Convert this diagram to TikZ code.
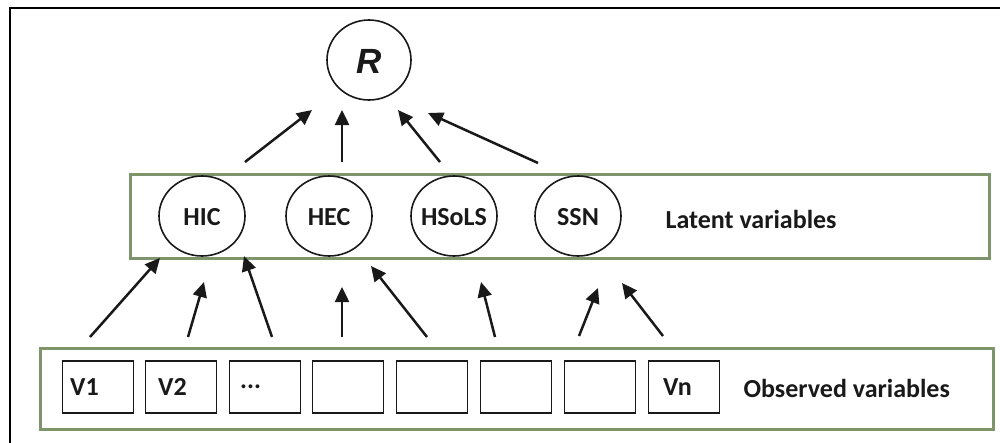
\documentclass[tikz,border=0pt]{standalone}
\usepackage{fontspec}
\setmainfont{Carlito}
\newfontfamily\rfont{Liberation Sans}
\usetikzlibrary{arrows.meta}
\definecolor{framegreen}{RGB}{126,148,106}
\definecolor{ink}{RGB}{25,25,25}
\tikzset{
  groupbox/.style={draw=framegreen, line width=3pt},
  ring/.style={draw=ink, line width=1.6pt},
  obsbox/.style={draw=ink, line width=1.6pt, minimum width=71pt, minimum height=52pt, inner sep=0pt},
  lbl/.style={font=\fontsize{26}{28}\selectfont\bfseries, text=ink},
  link/.style={draw=ink, line width=2.5pt, -{Triangle[length=15pt,width=14pt]}},
}
\begin{document}
\begin{tikzpicture}[x=1pt, y=-1pt]
  \useasboundingbox (0,0) rectangle (1000,442);
  % outer frame
  \draw[line width=2.5pt, black] (10,8) rectangle (1020,460);

  % group boxes
  \draw[groupbox] (130,174) rectangle (989,258);
  \draw[groupbox] (40,348) rectangle (993,429);

  % top construct
  \draw[ring] (369,60) ellipse [x radius=42, y radius=40];
  \node[text=ink, font=\fontsize{35}{36}\rfont\bfseries\itshape] (R) at (369,61) {R};

  % latent variables
  \foreach \n/\x/\t in {hic/202/HIC, hec/329/HEC, hsols/454/HSoLS, ssn/578/SSN}{
    \draw[ring] (\x,216) ellipse [x radius=43, y radius=40];
    \node[lbl] (\n) at (\x,217) {\t};
  }
  \node[lbl, anchor=west] (latent) at (662,219) {Latent variables};

  % observed variables
  \foreach \i/\x in {1/98, 2/181, 3/265, 4/348, 5/432, 6/516, 7/600, 8/684}{
    \node[obsbox] (o\i) at (\x,387) {};
  }
  \node[lbl, anchor=west] (t1) at ([xshift=5pt]o1.west) {V1};
  \node[lbl, anchor=west] (t2) at ([xshift=10pt]o2.west) {V2};
  \node[lbl, anchor=west] (t3) at ([xshift=8pt]o3.west) {...};
  \node[lbl, anchor=west] (t8) at ([xshift=12pt]o8.west) {Vn};
  \node[lbl, anchor=west] (observed) at (740,388) {Observed variables};

  % arrow end points: latent to R
  \coordinate (a1s) at (245,162); \coordinate (a1e) at (312,110);
  \coordinate (a2s) at (342,162); \coordinate (a2e) at (342,110);
  \coordinate (a3s) at (440,162); \coordinate (a3e) at (398,110);
  \coordinate (a4s) at (538,163); \coordinate (a4e) at (428,113);
  % arrow end points: observed to latent
  \coordinate (b1s) at (90,337);  \coordinate (b1e) at (160,258);
  \coordinate (b2s) at (188,337); \coordinate (b2e) at (204,282);
  \coordinate (b3s) at (272,337); \coordinate (b3e) at (244,256);
  \coordinate (b4s) at (342,337); \coordinate (b4e) at (342,287);
  \coordinate (b5s) at (427,337); \coordinate (b5e) at (371,266);
  \coordinate (b6s) at (495,337); \coordinate (b6e) at (481,282);
  \coordinate (b7s) at (579,336); \coordinate (b7e) at (598,288);
  \coordinate (b8s) at (663,336); \coordinate (b8e) at (622,283);

  \foreach \c in {a1,a2,a3,a4,b1,b2,b3,b4,b5,b6,b7,b8}{
    \draw[link] (\c s) -- (\c e);
  }
\end{tikzpicture}
\end{document}
